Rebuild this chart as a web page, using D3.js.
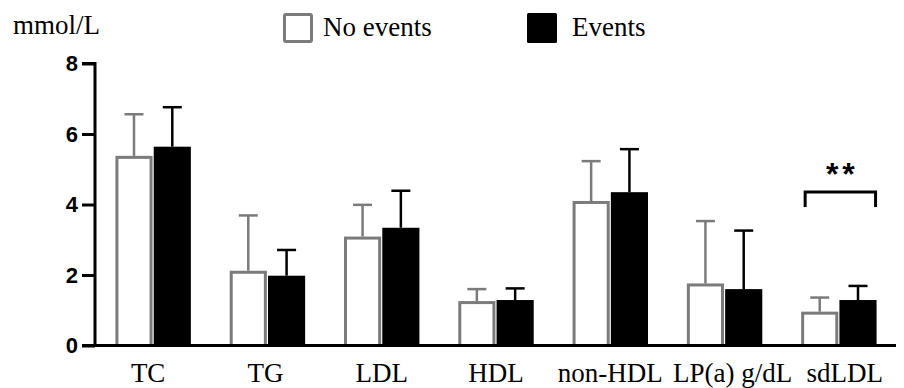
<!DOCTYPE html>
<html>
<head>
<meta charset="utf-8">
<script src="https://cdn.jsdelivr.net/npm/d3@7"></script>
<style>
  body { margin: 0; background: #fff; }
  svg { display: block; }
</style>
</head>
<body>
<svg></svg>
<script>
var width = 904;
var height = 388;

var categories = ["TC", "TG", "LDL", "HDL", "non-HDL", "LP(a) g/dL", "sdLDL"];
var series = ["No events", "Events"];
var noEventsMean = [5.38, 2.12, 3.09, 1.26, 4.10, 1.76, 0.96];
var noEventsErr  = [6.56, 3.69, 3.99, 1.60, 5.23, 3.53, 1.36];
var eventsMean   = [5.64, 1.98, 3.34, 1.29, 4.35, 1.60, 1.29];
var eventsErr    = [6.76, 2.71, 4.39, 1.62, 5.57, 3.26, 1.69];
var yTicks = [0, 2, 4, 6, 8];

var grey = "#7b7b7b";

var svg = d3.select("svg")
            .attr("width", width)
            .attr("height", height);

var x = d3.scaleBand()
          .domain(categories)
          .range([96, 896])
          .paddingInner(0.34)
          .paddingOuter(0.17);

var xSub = d3.scaleBand()
             .domain(series)
             .range([0, x.bandwidth()])
             .paddingInner(0.03);

var y = d3.scaleLinear()
          .domain([0, 8])
          .range([345.5, 63.5]);

// y axis
var yAxis = svg.append("g")
               .attr("transform", "translate(95,0)")
               .call(d3.axisLeft(y).tickValues(yTicks).tickSize(13).tickPadding(4));
yAxis.select(".domain").attr("stroke-width", 3).attr("d", "M-13," + y(8) + "H0V" + y(0));
yAxis.selectAll(".tick line").attr("stroke-width", 3);
yAxis.selectAll(".tick text")
     .attr("font-family", "Liberation Sans, Arial, sans-serif")
     .attr("font-weight", "bold")
     .attr("font-size", 22)
     .attr("fill", "#000");

var rows = categories.map((c, i) => ({
  cat: c,
  vals: [
    { s: "No events", mean: noEventsMean[i], err: noEventsErr[i] },
    { s: "Events", mean: eventsMean[i], err: eventsErr[i] }
  ]
}));

var groups = svg.selectAll("g.group")
                .data(rows)
                .enter()
                .append("g")
                  .attr("class", "group")
                  .attr("transform", d => "translate(" + x(d.cat) + ",0)");

var bars = groups.selectAll("g.bar")
                 .data(d => d.vals)
                 .enter()
                 .append("g")
                   .attr("class", "bar");

// error bars (upper only)
bars.append("line")
    .attr("x1", d => xSub(d.s) + xSub.bandwidth() / 2)
    .attr("x2", d => xSub(d.s) + xSub.bandwidth() / 2)
    .attr("y1", d => y(d.mean))
    .attr("y2", d => y(d.err))
    .attr("stroke", d => d.s == "Events" ? "#000" : grey)
    .attr("stroke-width", 2.5);

bars.append("line")
    .attr("x1", d => xSub(d.s) + xSub.bandwidth() / 2 - 9.5)
    .attr("x2", d => xSub(d.s) + xSub.bandwidth() / 2 + 9.5)
    .attr("y1", d => y(d.err))
    .attr("y2", d => y(d.err))
    .attr("stroke", d => d.s == "Events" ? "#000" : grey)
    .attr("stroke-width", 2.5);

bars.append("rect")
    .attr("x", d => xSub(d.s) + (d.s == "Events" ? 0 : 1.5))
    .attr("width", d => xSub.bandwidth() - (d.s == "Events" ? 0 : 3))
    .attr("y", d => y(d.mean) + (d.s == "Events" ? 0 : 1.5))
    .attr("height", d => y(0) - y(d.mean) - (d.s == "Events" ? 0 : 1.5))
    .attr("fill", d => d.s == "Events" ? "#000" : "#fff")
    .attr("stroke", d => d.s == "Events" ? "none" : grey)
    .attr("stroke-width", 3);

// baseline
svg.append("line")
   .attr("x1", 82).attr("x2", 896)
   .attr("y1", y(0)).attr("y2", y(0))
   .attr("stroke", "#000")
   .attr("stroke-width", 3);

// category labels (small nudges to match the original placement)
var labelShift = { "TC": -5, "TG": -2, "LP(a) g/dL": 8, "sdLDL": 6 };
svg.selectAll("text.cat")
   .data(categories)
   .enter()
   .append("text")
     .attr("class", "cat")
     .attr("x", d => x(d) + x.bandwidth() / 2 + (labelShift[d] || 0))
     .attr("y", 382)
     .attr("text-anchor", "middle")
     .attr("font-family", "Liberation Serif, Times New Roman, serif")
     .attr("font-size", 27)
     .text(d => d);

// unit label
svg.append("text")
   .attr("x", 13).attr("y", 34)
   .attr("font-family", "Liberation Serif, Times New Roman, serif")
   .attr("font-size", 27)
   .text("mmol/L");

// legend
var legend = [
  { label: "No events", x: 283, tx: 323 },
  { label: "Events", x: 527, tx: 572 }
];
svg.selectAll("rect.leg")
   .data(legend)
   .enter()
   .append("rect")
     .attr("class", "leg")
     .attr("x", d => d.x + (d.label == "Events" ? 0 : 1.5))
     .attr("y", d => 13 + (d.label == "Events" ? 0 : 1.5))
     .attr("width", d => d.label == "Events" ? 30 : 27)
     .attr("height", d => d.label == "Events" ? 30 : 27)
     .attr("rx", 1.5)
     .attr("fill", d => d.label == "Events" ? "#000" : "#fff")
     .attr("stroke", d => d.label == "Events" ? "none" : grey)
     .attr("stroke-width", 3);
svg.selectAll("text.leg")
   .data(legend)
   .enter()
   .append("text")
     .attr("class", "leg")
     .attr("x", d => d.tx)
     .attr("y", 36)
     .attr("font-family", "Liberation Serif, Times New Roman, serif")
     .attr("font-size", 27)
     .text(d => d.label);

// significance bracket for sdLDL
var sx = x("sdLDL");
var bx1 = sx + xSub("No events") + 4;
var bx2 = sx + xSub("Events") + xSub.bandwidth() - 1;
svg.append("path")
   .attr("d", "M" + bx1 + ",207V192H" + bx2 + "V207")
   .attr("fill", "none")
   .attr("stroke", "#000")
   .attr("stroke-width", 3);
svg.append("text")
   .attr("x", (bx1 + bx2) / 2 + 2)
   .attr("y", 185)
   .attr("text-anchor", "middle")
   .attr("font-family", "Liberation Sans, Arial, sans-serif")
   .attr("font-weight", "bold")
   .attr("font-size", 32)
   .attr("letter-spacing", 4)
   .text("**");
</script>
</body>
</html>
